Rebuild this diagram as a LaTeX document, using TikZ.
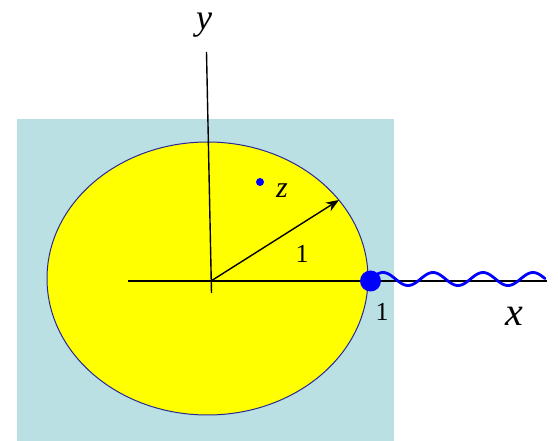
\documentclass[tikz,border=0pt]{standalone}
\usepackage{fontspec}
\setmainfont{Liberation Serif}
\usetikzlibrary{arrows.meta}
\definecolor{bgblue}{RGB}{186,224,228}
\definecolor{rim}{RGB}{40,40,150}
\definecolor{yel}{RGB}{255,255,0}
\tikzset{
  axis/.style={black, line width=1.4pt},
  lbl/.style={inner sep=0pt, text=black, anchor=base, text height=0.7em, text depth=0.22em},
  bigdot/.style={circle, fill=blue, inner sep=0pt, minimum size=21pt},
  smalldot/.style={circle, fill=blue, inner sep=0pt, minimum size=8pt},
}
\begin{document}
\begin{tikzpicture}[x=1pt,y=-1pt]
\useasboundingbox (0,0) rectangle (558,441);
\fill[bgblue] (17,119) rectangle (394,441);
\draw[rim, line width=1pt, fill=yel] (207.5,278.5) ellipse [x radius=160.5, y radius=136.5];
\coordinate (O) at (211,281);
\coordinate (ytop) at (206.5,52);
\coordinate (ybot) at (211.5,293);
\coordinate (xl) at (128,281);
\coordinate (xr) at (547,281);
\coordinate (tip) at (339,200);
\draw[axis] (ybot) -- (ytop);
\draw[axis] (xl) -- (xr);
\draw[black, line width=1.4pt, -{Stealth[length=13pt,width=10pt]}] (O) -- (tip);
\draw[blue, line width=2.8pt, line cap=round] plot[domain=371:545, samples=200, smooth] (\x, {279 - 6.5*sin((\x-370.5)/50*360)});
\node[bigdot] (one) at (370.5,281) {};
\node[smalldot] (z) at (260,182) {};
\node[lbl, font=\fontsize{30}{30}\selectfont\itshape] (zl) at (282,198) {z};
\node[lbl, font=\fontsize{26}{26}\selectfont] (r1) at (302,263) {1};
\node[lbl, font=\fontsize{26}{26}\selectfont] (x1) at (382,321) {1};
\node[lbl, font=\fontsize{40}{40}\selectfont\itshape] (xlab) at (514,326) {x};
\node[lbl, font=\fontsize{36}{36}\selectfont\itshape] (ylab) at (204,30) {y};
\end{tikzpicture}
\end{document}
